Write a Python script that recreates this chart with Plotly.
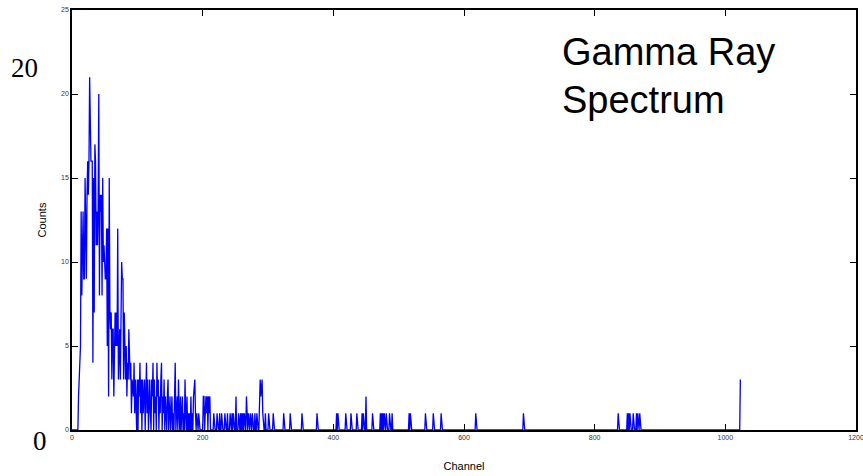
import numpy as np
import plotly.graph_objects as go

# Counts for channels 0-199 (dense low-energy region)
low_counts = [
    0, 0, 0, 0, 0, 0, 0, 0, 0, 0,
    2, 4, 4, 5, 13, 8, 13, 13, 9, 9,
    15, 9, 9, 14, 16, 14, 16, 21, 16, 16,
    16, 16, 4, 15, 7, 17, 16, 11, 13, 11,
    13, 20, 8, 14, 13, 14, 8, 15, 10, 11,
    9, 9, 9, 12, 5, 12, 2, 15, 7, 6,
    7, 3, 6, 6, 2, 6, 7, 5, 7, 5,
    12, 3, 4, 6, 3, 6, 10, 9, 9, 3,
    7, 5, 3, 5, 2, 4, 3, 6, 4, 3,
    4, 1, 3, 2, 2, 4, 1, 3, 0, 0,
    3, 0, 3, 2, 4, 1, 3, 0, 3, 1,
    2, 3, 0, 2, 4, 1, 3, 0, 2, 3,
    1, 0, 3, 2, 4, 0, 3, 1, 2, 0,
    4, 2, 3, 0, 2, 1, 3, 4, 0, 2,
    1, 3, 0, 2, 1, 0, 2, 3, 0, 1,
    2, 0, 1, 2, 0, 1, 0, 2, 4, 0,
    1, 2, 0, 3, 1, 0, 2, 0, 1, 2,
    0, 1, 0, 3, 1, 0, 2, 0, 1, 0,
    1, 0, 2, 0, 1, 0, 2, 3, 3, 1,
    0, 1, 0, 0, 1, 0, 0, 0, 0, 0,
]

# Isolated counts above channel 200
tail_channels = [
    201, 202, 204, 205, 206, 207, 209, 210, 211,
    217, 222, 226, 229, 234, 238, 242, 245, 247, 251,
    255, 258, 260, 262, 264, 267, 270, 273, 276, 280, 283,
    287, 288, 289, 290, 291, 292,
    296, 301, 308, 324, 334, 352, 375, 405, 407, 419, 427,
    436, 444, 446, 450, 460, 472, 474, 476, 478, 481, 486, 490,
    516, 518, 541, 553, 565, 618, 691,
    836, 850, 852, 854, 859, 864, 866, 869, 1023,
]
tail_counts = [
    2, 2, 2, 2, 1, 2, 2, 1, 2,
    1, 1, 1, 1, 1, 1, 1, 1, 1, 2,
    1, 1, 1, 1, 1, 2, 1, 1, 1, 1, 1,
    3, 3, 2, 3, 3, 1,
    1, 1, 1, 1, 1, 1, 1, 1, 1, 1, 1,
    1, 1, 1, 2, 1, 1, 1, 1, 1, 1, 1, 1,
    1, 1, 1, 1, 1, 1, 1,
    1, 1, 1, 1, 1, 1, 1, 1, 3,
]

n_channels = 1024
counts = np.zeros(n_channels)
counts[:len(low_counts)] = low_counts
counts[tail_channels] = tail_counts
channels = np.arange(n_channels)

x_ticks = [0, 200, 400, 600, 800, 1000, 1200]
y_ticks = [0, 5, 10, 15, 20, 25]

SANS = "Arial, Liberation Sans, sans-serif"
SERIF = "Liberation Serif, Times New Roman, serif"

fig = go.Figure()
fig.add_trace(go.Scatter(
    x=channels, y=counts, mode="lines",
    line=dict(color="#0000ff", width=1.3),
    hoverinfo="skip", showlegend=False,
))

axis_common = dict(
    showline=True, linecolor="black", linewidth=1.5,
    mirror="ticks", ticks="inside", ticklen=6, tickcolor="black",
    tickwidth=1, showgrid=False, zeroline=False, automargin=False,
    layer="below traces", ticklabeloverflow="allow",
    tickfont=dict(family=SANS, size=7, color="#333"),
)

fig.update_layout(
    width=863, height=476,
    margin=dict(l=72, r=7, t=10, b=46, autoexpand=False),
    paper_bgcolor="white", plot_bgcolor="white",
    xaxis=dict(range=[0, 1200], tickvals=x_ticks,
               title=dict(text="Channel", standoff=22,
                          font=dict(family=SANS, size=11, color="black")),
               **axis_common),
    yaxis=dict(range=[0, 25], tickvals=y_ticks,
               title=dict(text="Counts", standoff=12,
                          font=dict(family=SANS, size=11, color="black")),
               **axis_common),
    annotations=[
        dict(text="20", xref="paper", yref="paper", x=-0.0606, y=0.862,
             xanchor="center", yanchor="middle", showarrow=False,
             font=dict(family=SERIF, size=27, color="black")),
        dict(text="0", xref="paper", yref="paper", x=-0.0408, y=-0.026,
             xanchor="center", yanchor="middle", showarrow=False,
             font=dict(family=SERIF, size=27, color="black")),
        dict(text="Gamma Ray", xref="paper", yref="paper", x=0.622, y=0.9,
             xanchor="left", yanchor="middle", showarrow=False,
             font=dict(family=SANS, size=38, color="black")),
        dict(text="Spectrum", xref="paper", yref="paper", x=0.622, y=0.786,
             xanchor="left", yanchor="middle", showarrow=False,
             font=dict(family=SANS, size=38, color="black")),
    ],
)

fig.write_html("out.html")
